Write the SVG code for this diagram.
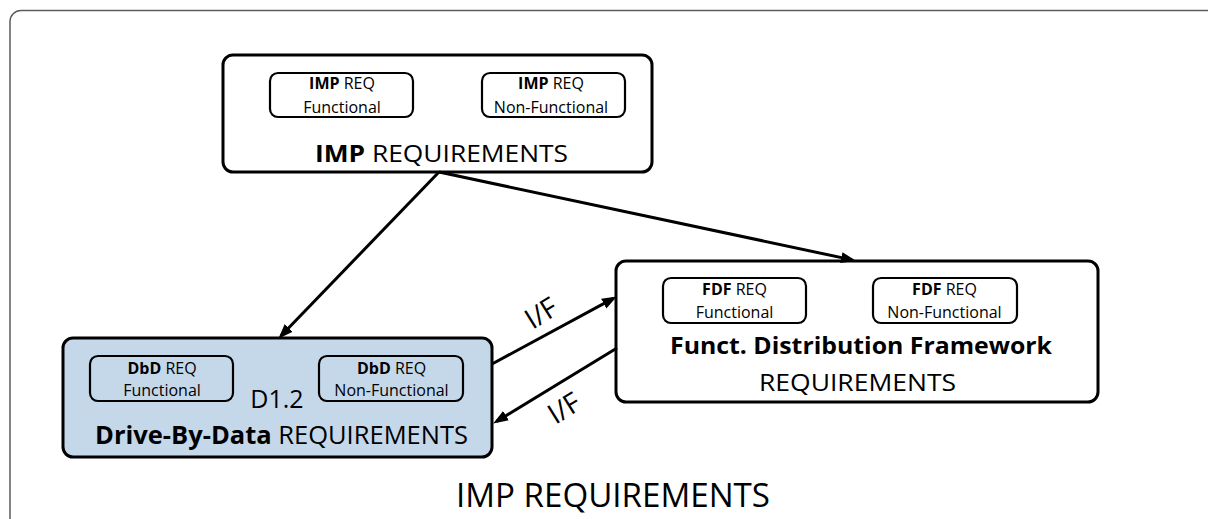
<svg xmlns="http://www.w3.org/2000/svg" width="1208" height="519" viewBox="0 0 1208 519">
  <defs>
    <style>
      text { font-family: "Open Sans", "Liberation Sans", sans-serif; fill: #000; }
      .frame { fill: none; stroke: #5c5c5c; stroke-width: 1.5; }
      .box { fill: #fff; stroke: #000; stroke-width: 3; }
      .box.dbd { fill: #c5d8ea; }
      .sub { fill: none; stroke: #000; stroke-width: 2.2; }
      .small { font-size: 16px; text-anchor: middle; }
      .big { font-size: 24px; text-anchor: middle; }
      .b { font-weight: bold; }
      .link { stroke: #000; stroke-width: 3; fill: none; marker-end: url(#arrow); }
      .iface { font-size: 28px; text-anchor: middle; }
    </style>
    <marker id="arrow" markerUnits="userSpaceOnUse" markerWidth="16" markerHeight="12" refX="11" refY="6" orient="auto">
      <path d="M0,0.5 L15,6 L0,11.5 Z" fill="#000"/>
    </marker>
  </defs>

  <rect width="1208" height="519" fill="#fff"/>

  <!-- outer frame, open past the right and bottom edges -->
  <rect class="frame" x="10" y="10.5" width="1210" height="520" rx="11"/>

  <!-- top-level requirements -->
  <g id="imp">
    <rect class="box" x="223" y="55" width="429" height="117" rx="10"/>
    <rect class="sub" x="270" y="73" width="143" height="44" rx="8"/>
    <text class="small" x="342" y="89"><tspan class="b">IMP</tspan> REQ</text>
    <text class="small" x="342" y="113">Functional</text>
    <rect class="sub" x="482" y="73" width="143" height="44" rx="8"/>
    <text class="small" x="551" y="89"><tspan class="b">IMP</tspan> REQ</text>
    <text class="small" x="551" y="113">Non-Functional</text>
    <text class="big" x="441.5" y="161.5" textLength="253" lengthAdjust="spacingAndGlyphs"><tspan class="b">IMP</tspan> REQUIREMENTS</text>
  </g>

  <!-- Drive-By-Data requirements -->
  <g id="dbd">
    <rect class="box dbd" x="63" y="338" width="429" height="119" rx="10"/>
    <rect class="sub" x="90" y="356" width="143" height="45" rx="8"/>
    <text class="small" x="162" y="374"><tspan class="b">DbD</tspan> REQ</text>
    <text class="small" x="162" y="396">Functional</text>
    <rect class="sub" x="319" y="356" width="144" height="45" rx="8"/>
    <text class="small" x="391.5" y="374"><tspan class="b">DbD</tspan> REQ</text>
    <text class="small" x="391.5" y="396">Non-Functional</text>
    <text x="277" y="408" style="font-size:25px;text-anchor:middle">D1.2</text>
    <text class="big" x="281.5" y="444" style="font-size:25px" textLength="373" lengthAdjust="spacingAndGlyphs"><tspan class="b">Drive-By-Data</tspan> REQUIREMENTS</text>
  </g>

  <!-- Functional Distribution Framework requirements -->
  <g id="fdf">
    <rect class="box" x="616" y="261" width="482" height="141" rx="10"/>
    <rect class="sub" x="663" y="278" width="143" height="45" rx="8"/>
    <text class="small" x="734.5" y="295"><tspan class="b">FDF</tspan> REQ</text>
    <text class="small" x="734.5" y="318">Functional</text>
    <rect class="sub" x="873" y="278" width="144" height="45" rx="8"/>
    <text class="small" x="944.5" y="295"><tspan class="b">FDF</tspan> REQ</text>
    <text class="small" x="944.5" y="318">Non-Functional</text>
    <text class="big b" x="861" y="354" textLength="382" lengthAdjust="spacingAndGlyphs">Funct. Distribution Framework</text>
    <text class="big" x="857.5" y="390.5" textLength="197" lengthAdjust="spacingAndGlyphs">REQUIREMENTS</text>
  </g>

  <!-- connectors -->
  <g id="connectors">
    <path class="link" d="M439,172 L281.1,335.8"/>
    <path class="link" d="M439,172 L852.1,259.9"/>
    <path class="link" d="M492,364 L613.4,298.4"/>
    <path class="link" d="M617,348 L496.6,421.4"/>
    <text class="iface" transform="translate(541,313) rotate(-32)" y="10">I/F</text>
    <text class="iface" transform="translate(564,408) rotate(-32)" y="10">I/F</text>
  </g>

  <!-- caption -->
  <text x="613" y="507" style="font-size:33px;text-anchor:middle" textLength="314" lengthAdjust="spacingAndGlyphs">IMP REQUIREMENTS</text>
</svg>
